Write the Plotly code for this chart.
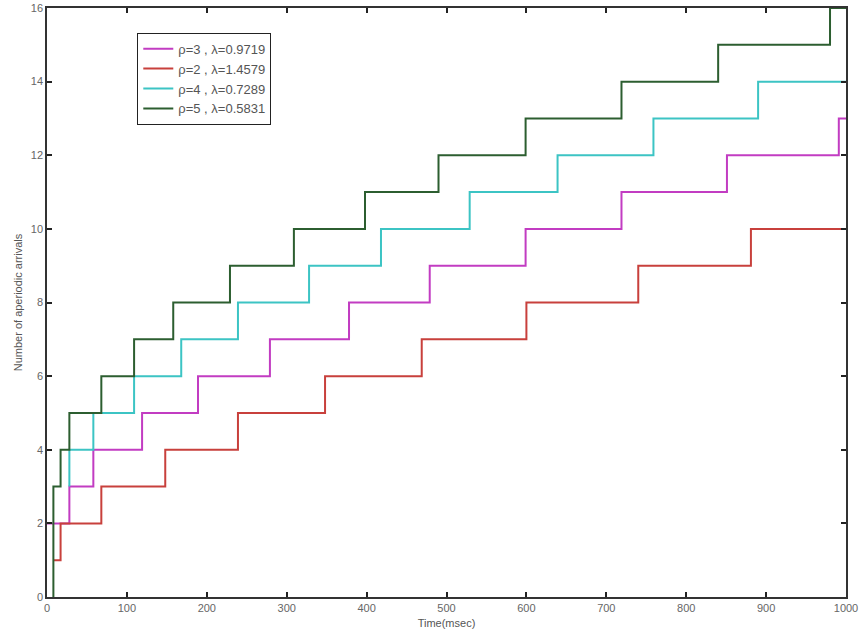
import plotly.graph_objects as go

# Arrival times (msec) at which the cumulative count changes, and the count after each change
t_rho3 = [0, 28, 58, 119, 189, 279, 378, 479, 599, 719, 851, 991, 1000]
n_rho3 = [2, 3, 4, 5, 6, 7, 8, 9, 10, 11, 12, 13, 13]

t_rho2 = [8, 17, 68, 148, 239, 348, 469, 600, 740, 881, 1000]
n_rho2 = [1, 2, 3, 4, 5, 6, 7, 8, 9, 10, 10]

t_rho4 = [28, 28, 58, 109, 168, 239, 328, 418, 529, 639, 759, 890, 1000]
n_rho4 = [3, 4, 5, 6, 7, 8, 9, 10, 11, 12, 13, 14, 14]

t_rho5 = [8, 8, 17, 28, 68, 109, 158, 229, 309, 398, 490, 599, 719, 840, 980, 1000]
n_rho5 = [0, 3, 4, 5, 6, 7, 8, 9, 10, 11, 12, 13, 14, 15, 16, 16]

series = [
    ("ρ=3 , λ=0.9719", t_rho3, n_rho3, "#c23cc2"),
    ("ρ=2 , λ=1.4579", t_rho2, n_rho2, "#c8403c"),
    ("ρ=4 , λ=0.7289", t_rho4, n_rho4, "#3cc4c4"),
    ("ρ=5 , λ=0.5831", t_rho5, n_rho5, "#2c5e30"),
]

x_ticks = list(range(0, 1001, 100))
y_ticks = list(range(0, 17, 2))

fig = go.Figure()
for name, t, n, color in series:
    fig.add_trace(go.Scatter(
        x=t, y=n, name=name, mode="lines",
        line=dict(color=color, width=2, shape="hv"),
    ))

axis_common = dict(
    showline=True, linecolor="#333333", linewidth=1.5, mirror="ticks",
    ticks="inside", ticklen=5, tickcolor="#222222", tickwidth=1.5,
    showgrid=False, zeroline=False, automargin=False,
    tickfont=dict(family="Liberation Sans", size=11, color="#666666"),
)

fig.update_layout(
    width=863, height=637,
    margin=dict(l=47, r=17, t=8, b=40),
    paper_bgcolor="white", plot_bgcolor="white",
    xaxis=dict(range=[0, 1000], tickvals=x_ticks,
               title=dict(text="Time(msec)", standoff=6,
                          font=dict(family="Liberation Sans", size=11, color="#555555")),
               **axis_common),
    yaxis=dict(range=[0, 16], tickvals=y_ticks,
               title=dict(text="Number of aperiodic arrivals", standoff=6,
                          font=dict(family="Liberation Sans", size=11, color="#555555")),
               **axis_common),
    legend=dict(
        x=0.113, y=0.958, xanchor="left", yanchor="top",
        bgcolor="white", bordercolor="#222222", borderwidth=1,
        font=dict(family="Liberation Sans", size=13, color="#555555"),
        tracegroupgap=0, itemwidth=30,
    ),
    showlegend=True,
)

fig.write_html("out.html")
